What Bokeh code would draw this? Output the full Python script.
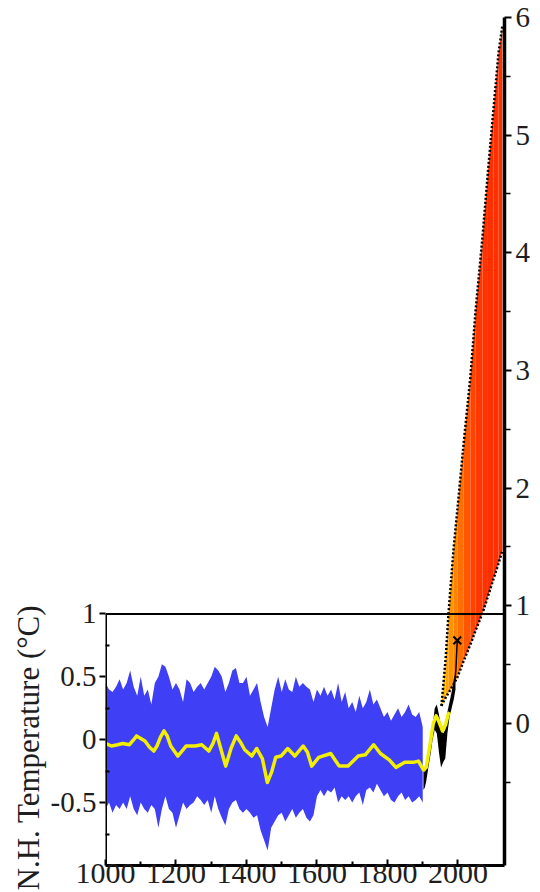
from bokeh.plotting import figure
from bokeh.models import Range1d, LinearAxis, FixedTicker, Title, CustomJSTickFormatter
from bokeh.embed import file_html
from bokeh.resources import INLINE

# ---------------- data ----------------
# reconstruction uncertainty band (left axis, deg C), decadal
band_years = [1000 + 10 * i for i in range(91)]
band_upper = [0.45, 0.40, 0.38, 0.42, 0.48, 0.40, 0.45, 0.55, 0.42, 0.35,
              0.50, 0.35, 0.40, 0.28, 0.45, 0.50, 0.60, 0.58, 0.50, 0.40,
              0.45, 0.40, 0.30, 0.48, 0.45, 0.38, 0.42, 0.45, 0.40, 0.45,
              0.50, 0.58, 0.55, 0.50, 0.38, 0.45, 0.55, 0.57, 0.45, 0.45,
              0.50, 0.35, 0.40, 0.45, 0.30, 0.18, 0.10, 0.25, 0.40, 0.50,
              0.38, 0.48, 0.40, 0.38, 0.50, 0.42, 0.45, 0.42, 0.40, 0.30,
              0.40, 0.35, 0.42, 0.35, 0.40, 0.32, 0.45, 0.30, 0.38, 0.25,
              0.30, 0.22, 0.35, 0.25, 0.30, 0.40, 0.28, 0.32, 0.25, 0.18,
              0.22, 0.15, 0.20, 0.25, 0.18, 0.22, 0.28, 0.20, 0.18, 0.22, 0.10]
band_lower = [-0.55, -0.50, -0.58, -0.52, -0.55, -0.50, -0.55, -0.45, -0.55, -0.60,
              -0.50, -0.55, -0.58, -0.52, -0.55, -0.70, -0.55, -0.45, -0.55, -0.58,
              -0.70, -0.60, -0.50, -0.55, -0.52, -0.50, -0.45, -0.48, -0.52, -0.48,
              -0.58, -0.45, -0.55, -0.62, -0.68, -0.55, -0.50, -0.48, -0.55, -0.58,
              -0.55, -0.58, -0.62, -0.60, -0.72, -0.80, -0.88, -0.70, -0.65, -0.60,
              -0.58, -0.65, -0.60, -0.55, -0.62, -0.58, -0.55, -0.62, -0.65, -0.60,
              -0.45, -0.40, -0.45, -0.40, -0.42, -0.38, -0.50, -0.45, -0.48, -0.45,
              -0.50, -0.45, -0.42, -0.52, -0.40, -0.38, -0.42, -0.35, -0.40, -0.45,
              -0.42, -0.48, -0.50, -0.45, -0.42, -0.48, -0.45, -0.50, -0.48, -0.45, -0.50]

# smoothed reconstruction + instrumental (yellow)
smooth_years = [1000, 1017, 1034, 1049, 1068, 1080, 1088, 1100, 1112, 1125, 1137, 1146, 1156, 1166, 1175, 1185,
                1205, 1217, 1229, 1254, 1273, 1293, 1305, 1315, 1328, 1341, 1356, 1371, 1383, 1395, 1415,
                1429, 1445, 1459, 1471, 1483, 1498, 1517, 1537, 1561, 1573, 1585, 1605, 1639,
                1663, 1688, 1717, 1737, 1761, 1780, 1805, 1824, 1849, 1873,
                1888, 1902, 1910, 1920, 1930, 1938, 1945, 1956, 1965, 1972, 1976]
smooth_values = [-0.03, -0.05, -0.04, -0.03, -0.04, 0.00, 0.03, 0.01, -0.01, -0.06, -0.09, -0.05, 0.02, 0.07, 0.03, -0.05,
                 -0.13, -0.09, -0.05, -0.05, -0.04, -0.09, -0.03, 0.05, -0.08, -0.21, -0.07, 0.03, -0.02, -0.08, -0.13,
                 -0.07, -0.15, -0.34, -0.26, -0.14, -0.13, -0.07, -0.13, -0.05, -0.10, -0.21, -0.14, -0.11,
                 -0.21, -0.21, -0.13, -0.12, -0.04, -0.11, -0.16, -0.22, -0.18, -0.18,
                 -0.17, -0.24, -0.22, -0.05, 0.13, 0.19, 0.15, 0.07, 0.12, 0.20, 0.22]

# instrumental record (black)
instr_years = [1902, 1906, 1910, 1916, 1922, 1928, 1934, 1940, 1946, 1952, 1958, 1964, 1970, 1976, 1982, 1988, 1993]
instr_hi = [-0.22, -0.26, -0.22, -0.12, 0.00, 0.10, 0.25, 0.28, 0.20, 0.10, 0.05, 0.08, 0.22, 0.30, 0.38, 0.48, 0.52]
instr_lo = [-0.40, -0.38, -0.33, -0.22, -0.12, 0.00, 0.08, 0.05, -0.10, -0.22, -0.18, -0.15, 0.05, 0.18, 0.25, 0.32, 0.40]
tail_years = [1990, 1994, 1998]
tail_values = [0.45, 0.55, 0.79]
mark_years = [1998]
mark_values = [0.79]

# projection fan (right axis, deg C)
fan_years = [1953, 1965, 1973, 1987, 1998, 2016, 2035, 2050, 2070, 2085, 2101, 2115, 2126]
fan_upper = [0.15, 0.55, 0.93, 1.47, 1.81, 2.38, 2.94, 3.51, 4.15, 4.69, 5.23, 5.70, 5.93]
fan_lower = [0.15, 0.22, 0.26, 0.33, 0.39, 0.53, 0.67, 0.79, 0.94, 1.08, 1.23, 1.36, 1.47]
fan_colors = ["#ffb400", "#ffa400", "#ff9400", "#ff8200", "#ff6e00", "#ff5600",
              "#ff4400", "#ff3800", "#ff3200", "#ff3000", "#ff3000", "#ff3000"]

x_ticks = [1000, 1200, 1400, 1600, 1800, 2000]
x_minor = [1100, 1300, 1500, 1700, 1900]
left_ticks = [-0.5, 0, 0.5, 1]
left_minor = [-0.75, -0.25, 0.25, 0.75]
right_ticks = [0, 1, 2, 3, 4, 5, 6]
right_minor = [-0.5, 0.5, 1.5, 2.5, 3.5, 4.5, 5.5]

X_START, X_END = 1000, 2132
LEFT_MIN, LEFT_MAX, LEFT_TOP = -1.0, 1.0, 5.741
RIGHT_MIN, RIGHT_MAX = -1.207, 6.0

FONT = "Liberation Serif"
INK = "#1e1e1e"

# ---------------- figure ----------------
p = figure(width=540, height=892, x_range=Range1d(X_START, X_END),
           y_range=Range1d(LEFT_MIN, LEFT_TOP),
           output_backend="svg", toolbar_location=None,
           min_border_left=105, min_border_right=36, min_border_top=17, min_border_bottom=27)
p.extra_y_ranges = {"right": Range1d(RIGHT_MIN, RIGHT_MAX)}
p.grid.visible = False
p.outline_line_color = None
p.background_fill_color = "white"
p.border_fill_color = "white"

fmt = CustomJSTickFormatter(code="return tick.toString();")

# left axis
ya = p.yaxis[0]
ya.ticker = FixedTicker(ticks=left_ticks, minor_ticks=left_minor)
ya.formatter = fmt
ya.axis_line_color = None
ya.major_tick_out = 6
ya.major_tick_in = 0
ya.minor_tick_in = 4
ya.minor_tick_out = 0
ya.major_tick_line_width = 2
ya.minor_tick_line_width = 2
ya.major_label_text_font = FONT
ya.major_label_text_font_size = "29px"
ya.major_label_text_color = INK
ya.major_label_standoff = 3

# x axis
xa = p.xaxis[0]
xa.ticker = FixedTicker(ticks=x_ticks, minor_ticks=x_minor)
xa.formatter = fmt
xa.axis_line_width = 3
xa.major_tick_in = 6
xa.major_tick_out = 0
xa.minor_tick_in = 4
xa.minor_tick_out = 0
xa.major_tick_line_width = 2
xa.minor_tick_line_width = 2
xa.major_label_text_font = FONT
xa.major_label_text_font_size = "30px"
xa.major_label_text_color = INK
xa.major_label_standoff = -2

# right axis
ra = LinearAxis(y_range_name="right", ticker=FixedTicker(ticks=right_ticks, minor_ticks=right_minor),
                formatter=fmt)
ra.axis_line_width = 3.5
ra.major_tick_out = 7
ra.major_tick_in = 0
ra.minor_tick_out = 6
ra.minor_tick_in = 0
ra.major_tick_line_width = 2
ra.minor_tick_line_width = 1.5
ra.major_label_text_font = FONT
ra.major_label_text_font_size = "29px"
ra.major_label_text_color = INK
ra.major_label_standoff = 4
p.add_layout(ra, "right")

# vertical axis title, placed beside the left axis at the lower panel
p.add_layout(Title(text="N.H. Temperature (°C)", align="left", offset=-25,
                   text_font=FONT, text_font_size="31px", text_font_style="normal",
                   text_color=INK, standoff=4), "left")

# ---------------- glyphs ----------------
p.varea(x=band_years, y1=band_lower, y2=band_upper, color="#3f3ff5")

for i in range(len(fan_years) - 1):
    p.varea(x=fan_years[i:i + 2], y1=fan_lower[i:i + 2], y2=fan_upper[i:i + 2],
            color=fan_colors[i], y_range_name="right")
p.line(fan_years, fan_upper, line_color="black", line_width=2.5, line_dash="2 2", y_range_name="right")
p.line(fan_years, fan_lower, line_color="black", line_width=2.5, line_dash="2 2", y_range_name="right")

p.varea(x=instr_years, y1=instr_lo, y2=instr_hi, color="black")
p.line(tail_years, tail_values, line_color="black", line_width=1.5)
p.scatter(mark_years, mark_values, marker="x", size=11, line_color="black", line_width=2)

p.line(smooth_years, smooth_values, line_color="#f2f000", line_width=3.5, line_join="round")

# panel box (left-axis panel)
p.line([X_START, X_END], [LEFT_MAX, LEFT_MAX], line_color="black", line_width=2)
p.line([X_START, X_START], [LEFT_MIN, LEFT_MAX], line_color="black", line_width=3)

open("out.html", "w").write(file_html(p, INLINE))
